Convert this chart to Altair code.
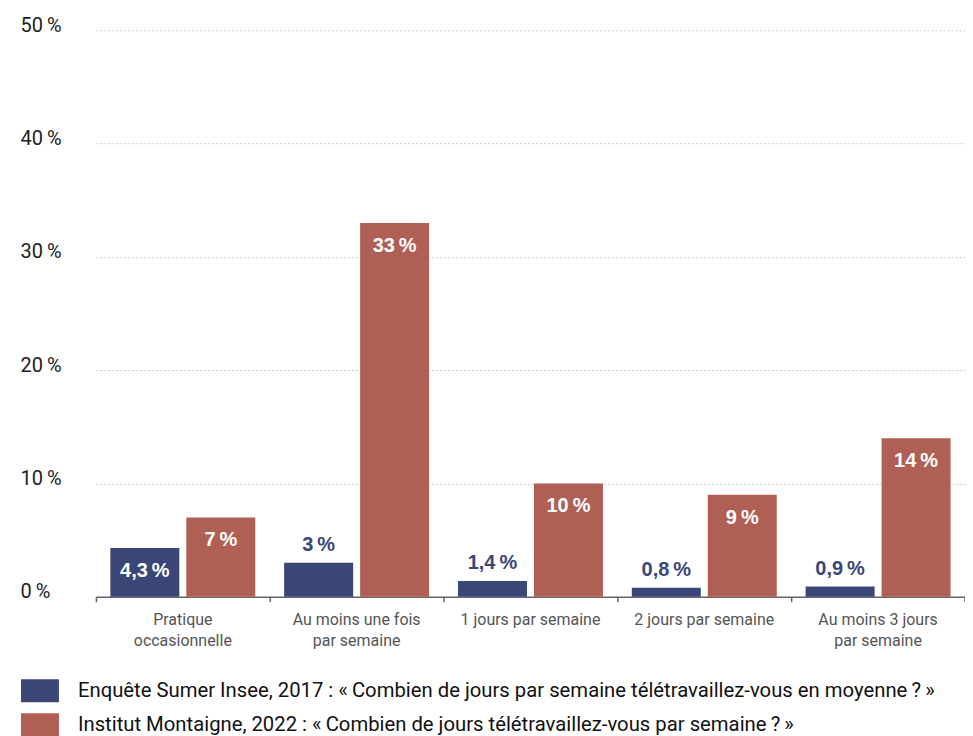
import altair as alt
import pandas as pd

categories = [
    "Pratique\noccasionnelle",
    "Au moins une fois\npar semaine",
    "1 jours par semaine",
    "2 jours par semaine",
    "Au moins 3 jours\npar semaine",
]
series = [
    "Enquête Sumer Insee, 2017 : «\u2009Combien de jours par semaine télétravaillez-vous en moyenne\u2009?\u2009»",
    "Institut Montaigne, 2022 : «\u2009Combien de jours télétravaillez-vous par semaine\u2009?\u2009»",
]
values_2017 = [4.3, 3, 1.4, 0.8, 0.9]
values_2022 = [7, 33, 10, 9, 14]
colors = ["#3a4676", "#b05f55"]
y_ticks = [0, 10, 20, 30, 40, 50]

rows = []
for s, vals in zip(series, [values_2017, values_2022]):
    for c, v in zip(categories, vals):
        rows.append({"cat": c, "serie": s, "value": v})
df = pd.DataFrame(rows)

NARROW = "Roboto, Liberation Sans, sans-serif"
BOLD = "Liberation Sans, Arial, sans-serif"
W, H = 870, 567

x_enc = alt.X(
    "cat:N",
    sort=categories,
    scale=alt.Scale(paddingInner=0, paddingOuter=0),
    axis=alt.Axis(
        title=None,
        bandPosition=0,
        labelExpr="split(datum.label, '\\n')",
        labelFont=NARROW,
        labelFontSize=16,
        labelColor="#555555",
        labelAngle=0,
        labelPadding=10,
        labelLineHeight=21,
        labelBaseline="top",
        labelLimit=300,
        domainColor="#666666",
        domainWidth=1.5,
        tickColor="#666666",
        tickSize=5,
        tickWidth=1.5,
        grid=False,
    ),
)
xoff_enc = alt.XOffset(
    "serie:N",
    sort=series,
    scale=alt.Scale(paddingInner=0.092, paddingOuter=0.19),
)
y_enc = alt.Y(
    "value:Q",
    scale=alt.Scale(domain=[0, 50], nice=False),
    axis=alt.Axis(
        title=None,
        values=y_ticks,
        ticks=False,
        tickSize=0,
        domain=False,
        labelAlign="left",
        labelPadding=76,
        labelBaseline="alphabetic",
        labelOffset=1,
        labelFont=NARROW,
        labelFontSize=20,
        labelColor="#222222",
        labelFlush=False,
        labelOverlap=False,
        labelExpr="datum.value + '\u2009%'",
        grid=True,
        gridColor="#cccccc",
        gridDash=[2, 2],
        gridWidth=1,
    ),
)

base = alt.Chart(df).encode(x=x_enc, xOffset=xoff_enc, y=y_enc)

bars = base.mark_bar().encode(
    color=alt.Color(
        "serie:N",
        sort=series,
        scale=alt.Scale(domain=series, range=colors),
        legend=alt.Legend(
            title=None,
            orient="none",
            legendX=-75,
            legendY=642,
            direction="vertical",
            symbolType="M-1,-0.605H1V0.605H-1Z",
            symbolSize=1444,
            symbolStrokeWidth=0,
            symbolOpacity=1,
            labelFont=NARROW,
            labelFontSize=20.3,
            labelColor="#111111",
            labelOffset=19,
            labelLimit=1000,
            rowPadding=3,
        ),
    )
)

label_expr = "replace(format(datum.value, '~g'), '.', ',') + '\u2009%'"

inside = base.transform_filter("datum.value >= 4").transform_calculate(
    lab=label_expr
).mark_text(
    font=BOLD, fontWeight="bold", fontSize=20, color="white", baseline="middle", dy=23
).encode(text="lab:N")

outside = base.transform_filter("datum.value < 4").transform_calculate(
    lab=label_expr
).mark_text(
    font=BOLD, fontWeight="bold", fontSize=20, color=colors[0], baseline="middle", dy=-18
).encode(text="lab:N")

end_tick = alt.Chart(pd.DataFrame({"a": [0]})).mark_rule(
    color="#666666", strokeWidth=1.5
).encode(x=alt.value(W), y=alt.value(H), y2=alt.value(H + 5))

chart = alt.layer(bars, inside, outside, end_tick).properties(
    width=W,
    height=H,
    autosize=alt.AutoSizeParams(type="none"),
    padding={"left": 88, "top": 22, "right": 0, "bottom": 145},
).configure_view(stroke=None)

chart.save("out.html", embed_options={"renderer": "svg", "actions": False})
